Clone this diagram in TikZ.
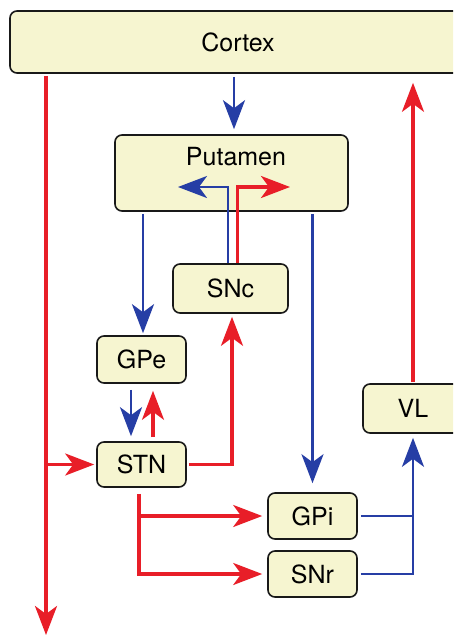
\documentclass[tikz,border=0pt]{standalone}
\usepackage{fontspec}
\setmainfont{TeX Gyre Heros}
\usetikzlibrary{arrows.meta}
\definecolor{boxfill}{RGB}{246,245,208}
\definecolor{myred}{RGB}{232,30,40}
\definecolor{myblue}{RGB}{38,62,165}
\begin{document}
\begin{tikzpicture}[x=1pt,y=-1pt,
  box/.style={draw=black!90, line width=1.6pt, fill=boxfill, rounded corners=7pt,
    inner sep=0pt, font=\fontsize{25}{29}\selectfont},
  lbl/.style={inner sep=0pt, font=\fontsize{25}{29}\selectfont},
  redline/.style={draw=myred, line width=3.2pt},
  blueline/.style={draw=myblue, line width=2.8pt},
  tip/.style={-{Stealth[length=29pt,width=22pt,inset=8pt]}}]
\fill[white] (0,0) rectangle (453,637);
\clip (0,0) rectangle (453,637);
% boxes
\node[box, minimum width=456pt, minimum height=62pt] (cortex) at (238,42) {Cortex};
\node[box, minimum width=233pt, minimum height=76pt] (putamen) at (231.5,173) {};
\node[lbl] (putlabel) at (236,157) {Putamen};
\node[box, minimum width=115pt, minimum height=49pt] (snc) at (230.5,288.5) {SNc};
\node[box, minimum width=89pt, minimum height=47pt] (gpe) at (141.5,359.5) {GPe};
\node[box, minimum width=89pt, minimum height=45pt] (stn) at (141.5,464.5) {STN};
\node[box, minimum width=89pt, minimum height=46pt] (gpi) at (312.5,516) {GPi};
\node[box, minimum width=89pt, minimum height=46pt] (snr) at (312.5,574) {SNr};
\node[box, minimum width=100pt, minimum height=49pt] (vl) at (413,408.5) {VL};
% helper coordinates
\coordinate (bottomend) at (46,635);
\coordinate (branch) at (46,464.5);
\coordinate (cp) at ([xshift=2.5pt]putamen.north);
\coordinate (pg) at ([xshift=1.5pt]gpe.north);
\coordinate (sb) at ([xshift=-2.5pt]snc.north);
\coordinate (sr) at ([xshift=7pt]snc.north);
\coordinate (pl) at (178,187);
\coordinate (pr) at (290,187);
\coordinate (gs1) at ([xshift=-10.5pt]gpe.south);
\coordinate (gs2) at ([xshift=11.5pt]stn.north);
\coordinate (ss) at ([xshift=1.5pt]snc.south);
\coordinate (sd) at ([xshift=-2.5pt]stn.south);
% connectors
\draw[blueline,tip,shorten <=3pt,shorten >=5pt] (cp |- cortex.south) -- (cp);
\draw[redline,tip,shorten <=2pt] (bottomend |- cortex.south) -- (bottomend);
\draw[redline,tip,shorten >=2pt] (branch) -- (stn.west);
\draw[blueline,tip,shorten <=2pt,shorten >=2pt] (putamen.south -| pg) -- (pg);
\draw[blueline,tip,shorten <=2pt,shorten >=9pt] (putamen.south -| gpi.north) -- (gpi.north);
\draw[blueline,tip] (sb) |- (pl);
\draw[redline,tip] (sr) |- (pr);
\draw[blueline,tip,shorten <=6pt,shorten >=5pt] (gs1) -- (gs1 |- stn.north);
\draw[redline,tip,shorten <=4pt,shorten >=7pt] (gs2) -- (gs2 |- gpe.south);
\draw[redline,tip,shorten <=2pt,shorten >=3pt] (stn.east) -| (ss);
\draw[redline,tip,shorten <=6pt,shorten >=5pt] (sd) |- (snr.west);
\draw[redline,tip,shorten >=5pt] (sd |- gpi.west) -- (gpi.west);
\draw[blueline,shorten <=3pt] (gpi.east) -- (gpi.east -| vl.south);
\draw[blueline,tip,shorten <=3pt,shorten >=4pt] (snr.east) -| (vl.south);
\draw[redline,tip,shorten <=1pt,shorten >=9pt] (vl.north) -- (vl.north |- cortex.south);
\end{tikzpicture}
\end{document}
